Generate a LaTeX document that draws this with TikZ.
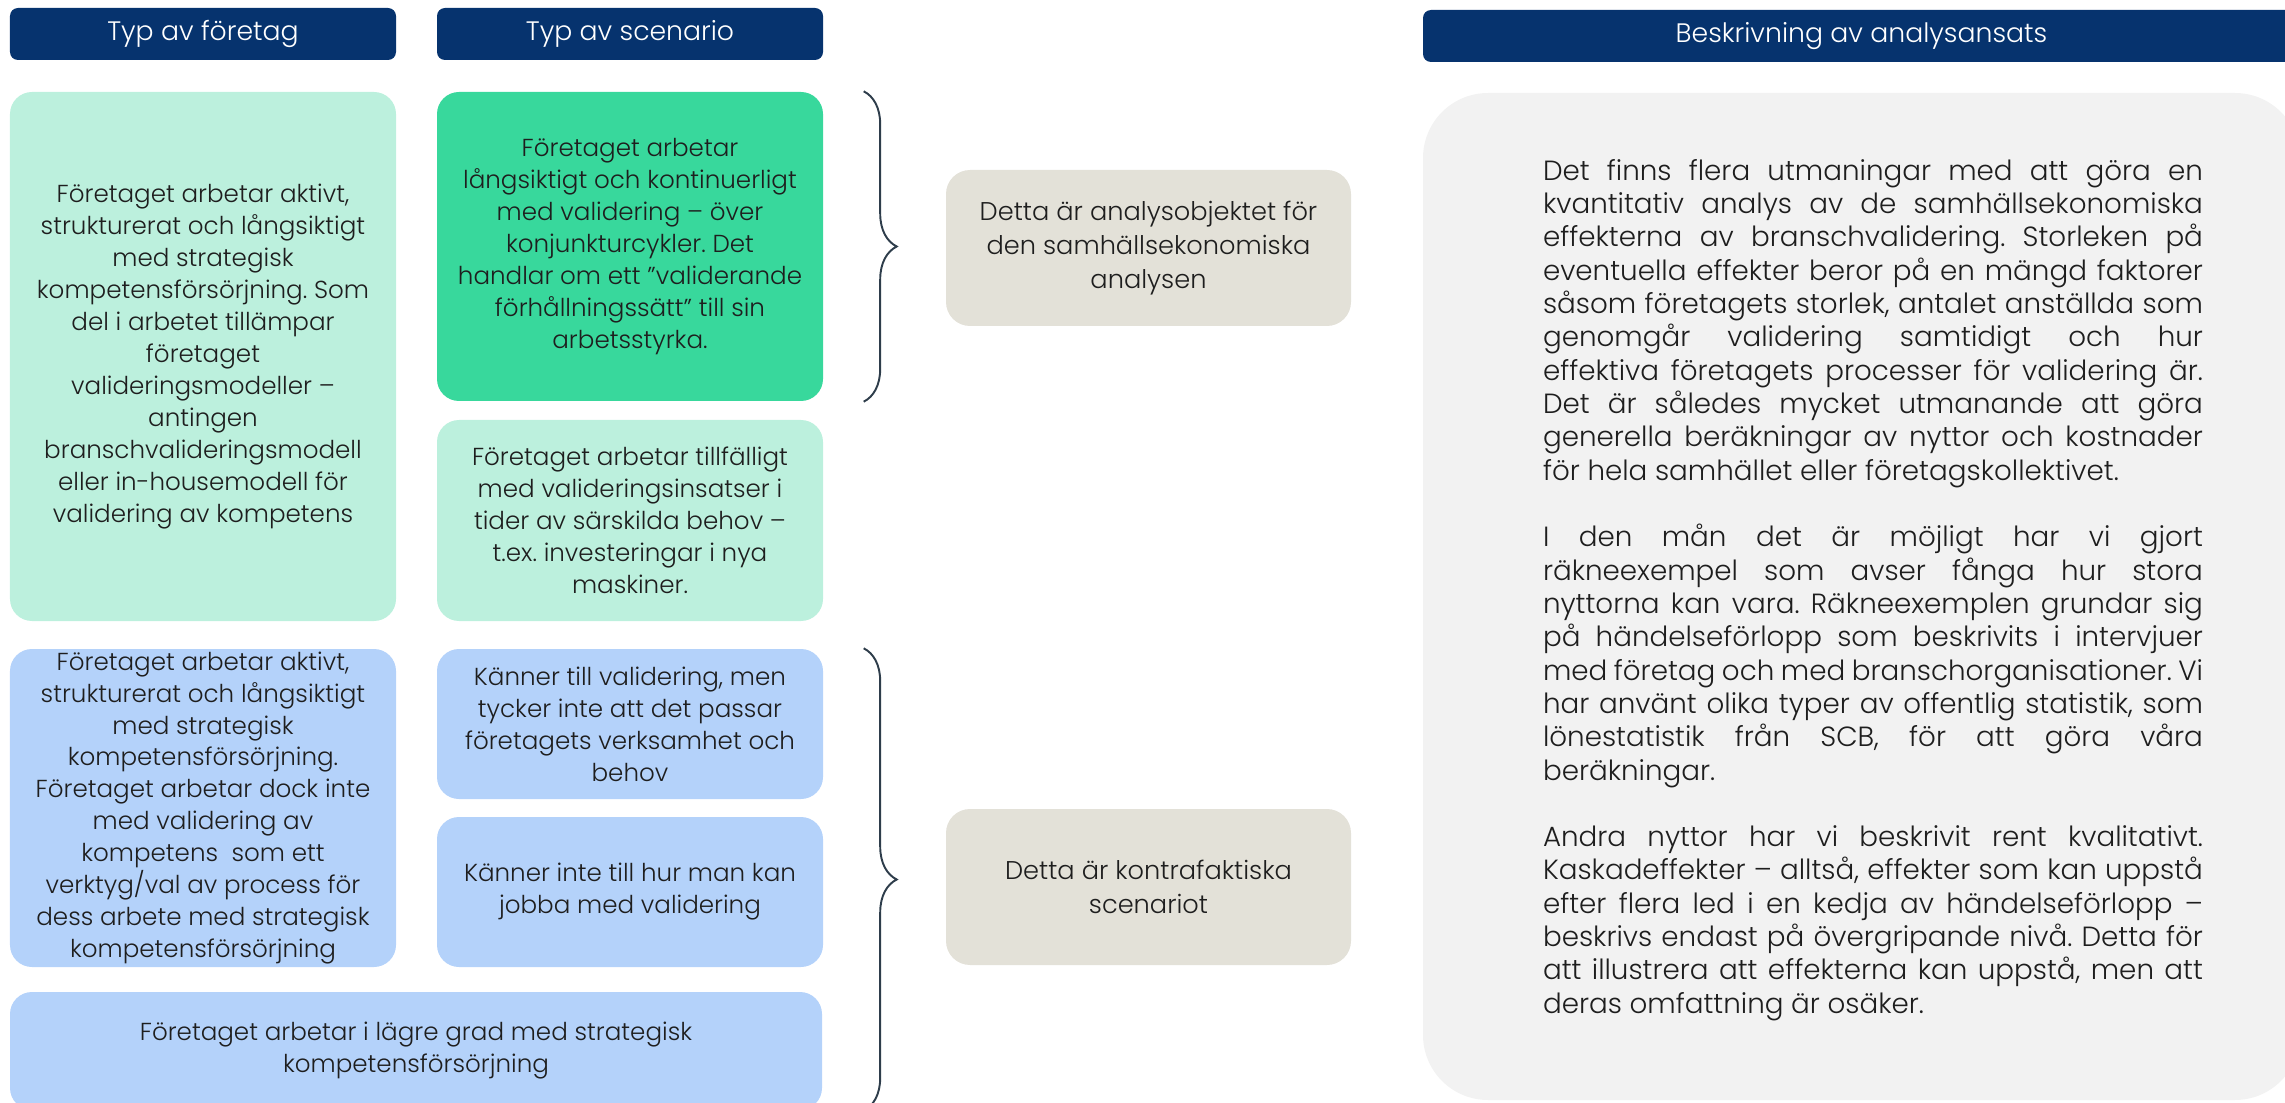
\documentclass[tikz,border=0pt]{standalone}
\usepackage{fontspec}
\setmainfont{Poppins}[UprightFont=* Light]
\usetikzlibrary{positioning,decorations.pathreplacing}
\definecolor{navy}{HTML}{06336E}
\definecolor{mint}{HTML}{BCF0DD}
\definecolor{jade}{HTML}{38D89C}
\definecolor{sky}{HTML}{B4D2FA}
\definecolor{sand}{HTML}{E3E1D8}
\definecolor{paper}{HTML}{F2F2F2}
\definecolor{ink}{HTML}{1E1E1E}
\definecolor{slate}{HTML}{2E3D4B}
\hyphenpenalty=10000
\exhyphenpenalty=10000
\tolerance=9999
\frenchspacing

\begin{document}
\begin{tikzpicture}[
    hdr/.style={fill=navy, text=white, rounded corners=0.08cm, minimum height=0.52cm, inner sep=0pt, font=\fontsize{7.6}{9}\selectfont},
    cell/.style={rounded corners=0.22cm, align=center, text=ink, inner sep=0pt, minimum width=3.86cm, font=\fontsize{7}{9.1}\selectfont},
    note/.style={fill=sand, rounded corners=0.24cm, align=center, text=ink, inner sep=0pt, minimum width=4.05cm, minimum height=1.56cm, font=\fontsize{7.3}{9.6}\selectfont},
    grp/.style={decorate, decoration={brace, amplitude=0.33cm}, draw=slate, line width=0.55pt}
  ]
  \useasboundingbox (0,0) rectangle (22.85,-11.03);
  % headers
  \node[hdr, minimum width=3.86cm] (hfirm) at (2.03,-0.34) {Typ av företag};
  \node[hdr, minimum width=3.86cm] (hscen) at (6.30,-0.34) {Typ av scenario};
  \node[hdr, minimum width=8.77cm] (hdesc) at (18.615,-0.36) {Beskrivning av analysansats};
  % firm and scenario boxes
  \node[cell, fill=mint, minimum height=5.29cm] (firmA) at (2.03,-3.565)
    {Företaget arbetar aktivt,\\strukturerat och långsiktigt\\med strategisk\\kompetensförsörjning. Som\\del i arbetet tillämpar\\företaget\\valideringsmodeller –\\antingen\\branschvalideringsmodell\\eller in-housemodell för\\validering av kompetens};
  \node[cell, fill=jade, minimum height=3.09cm] (scenA) at (6.30,-2.465)
    {Företaget arbetar\\långsiktigt och kontinuerligt\\med validering – över\\konjunkturcykler. Det\\handlar om ett ”validerande\\förhållningssätt” till sin\\arbetsstyrka.};
  \node[cell, fill=mint, minimum height=2.01cm] (scenB) at (6.30,-5.205)
    {Företaget arbetar tillfälligt\\med valideringsinsatser i\\tider av särskilda behov –\\t.ex. investeringar i nya\\maskiner.};
  \node[cell, fill=sky, minimum height=3.18cm] (firmB) at (2.03,-8.08)
    {Företaget arbetar aktivt,\\strukturerat och långsiktigt\\med strategisk\\kompetensförsörjning.\\Företaget arbetar dock inte\\med validering av\\kompetens~ som ett\\verktyg/val av process för\\dess arbete med strategisk\\kompetensförsörjning};
  \node[cell, fill=sky, minimum height=1.50cm] (scenC) at (6.30,-7.24)
    {Känner till validering, men\\tycker inte att det passar\\företagets verksamhet och\\behov};
  \node[cell, fill=sky, minimum height=1.50cm] (scenD) at (6.30,-8.92)
    {Känner inte till hur man kan\\jobba med validering};
  \node[cell, fill=sky, minimum width=8.12cm, minimum height=1.18cm] (firmC) at (4.16,-10.51)
    {Företaget arbetar i lägre grad med strategisk\\kompetensförsörjning};
  % braces and notes
  \draw[grp] ([xshift=0.4cm]scenA.north east) -- ([xshift=0.4cm]scenA.south east);
  \draw[grp] ([xshift=0.4cm]scenC.north east) -- ([xshift=0.4cm]scenC.north east |- firmC.south);
  \node[note] (obj) at (11.485,-2.48) {Detta är analysobjektet för\\den samhällsekonomiska\\analysen};
  \node[note] (cf) at (11.485,-8.87) {Detta är kontrafaktiska\\scenariot};
  % description panel
  \node[fill=paper, rounded corners=0.65cm, minimum width=8.77cm, minimum height=10.07cm, inner sep=0pt] (panel) at (18.615,-5.965) {};
  \node[text width=6.6cm, align=justify, text=ink, inner sep=0pt, font=\fontsize{7.9}{9.48}\selectfont] (desc) at (18.73,-5.90)
    {Det finns flera utmaningar med att göra en\linebreak
    kvantitativ analys av de samhällsekonomiska\linebreak
    effekterna av branschvalidering. Storleken på\linebreak
    eventuella effekter beror på en mängd faktorer\linebreak
    såsom företagets storlek, antalet anställda som\linebreak
    genomgår validering samtidigt och hur\linebreak
    effektiva företagets processer för validering är.\linebreak
    Det är således mycket utmanande att göra\linebreak
    generella beräkningar av nyttor och kostnader\linebreak
    för hela samhället eller företagskollektivet.\\[9.48pt]
    I den mån det är möjligt har vi gjort\linebreak
    räkneexempel som avser fånga hur stora\linebreak
    nyttorna kan vara. Räkneexemplen grundar sig\linebreak
    på händelseförlopp som beskrivits i intervjuer\linebreak
    med företag och med branschorganisationer. Vi\linebreak
    har använt olika typer av offentlig statistik, som\linebreak
    lönestatistik från SCB, för att göra våra\linebreak
    beräkningar.\\[9.48pt]
    Andra nyttor har vi beskrivit rent kvalitativt.\linebreak
    Kaskadeffekter – alltså, effekter som kan uppstå\linebreak
    efter flera led i en kedja av händelseförlopp –\linebreak
    beskrivs endast på övergripande nivå. Detta för\linebreak
    att illustrera att effekterna kan uppstå, men att\linebreak
    deras omfattning är osäker.};
\end{tikzpicture}
\end{document}
